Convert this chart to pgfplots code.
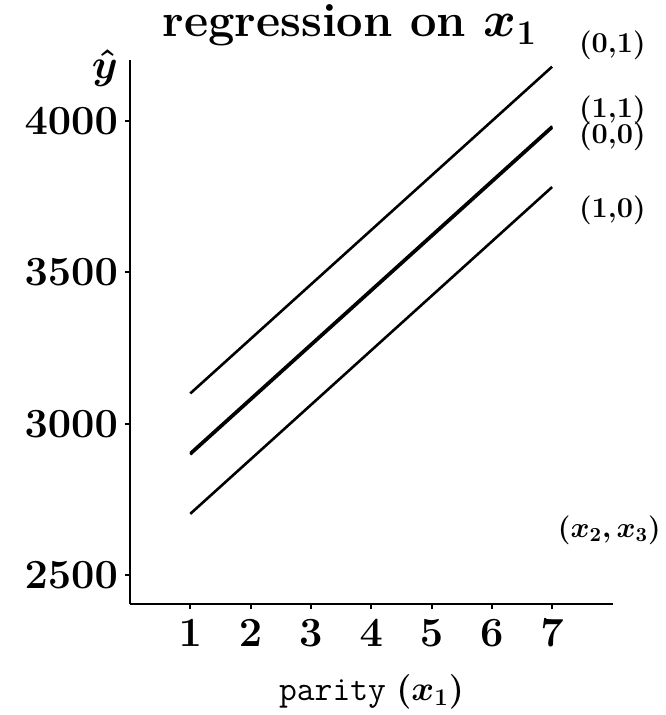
\documentclass[border=0pt]{standalone}
\usepackage{pgfplots}
\pgfplotsset{compat=1.18}
\begin{document}
\begin{tikzpicture}
  \begin{axis}[
    scale only axis,
    width=241.5pt, height=272pt,
    xmin=0, xmax=8.01,
    ymin=2404, ymax=4202,
    axis lines=left,
    axis line style={-, line width=1pt},
    tick align=outside,
    major tick length=2.5pt,
    tick style={line width=1pt, black},
    xtick={1,2,...,7},
    ytick={2500,3000,3500,4000},
    /pgf/number format/1000 sep={},
    tick label style={font=\fontsize{22}{26}\selectfont\boldmath},
    xticklabel style={yshift=-2pt},
    title={regression on $x_1$},
    title style={font=\fontsize{23.5}{28}\selectfont\bfseries\boldmath, at={(0.455,1)}, anchor=base, yshift=5.5pt},
    xlabel={\texttt{parity} $(x_1)$},
    xlabel style={font=\LARGE\boldmath, at={(rel axis cs:0.5,0)}, anchor=base, yshift=-48pt},
    ylabel={$\hat{y}$},
    ylabel style={font=\huge\boldmath, rotate=-90, at={(rel axis cs:-0.052,0.966)}, anchor=base},
    clip=false,
  ]
    % (0,1)
    \addplot[black, no markers, line width=1.3pt] coordinates {(1,3100) (7,4180)};
    % (1,1)
    \addplot[black, no markers, line width=1.3pt] coordinates {(1,2903) (7,3983)};
    % (0,0)
    \addplot[black, no markers, line width=1.3pt] coordinates {(1,2898) (7,3978)};
    % (1,0)
    \addplot[black, no markers, line width=1.3pt] coordinates {(1,2702) (7,3782)};

    \node[font=\Large\bfseries] at (axis cs:8.0,4251) {(0,1)};
    \node[font=\Large\bfseries] at (axis cs:8.0,4036) {(1,1)};
    \node[font=\Large\bfseries] at (axis cs:8.0,3949) {(0,0)};
    \node[font=\Large\bfseries] at (axis cs:8.0,3706) {(1,0)};
    \node[font=\Large\boldmath] at (axis cs:7.95,2649) {$(x_2,x_3)$};
  \end{axis}
  \pgfresetboundingbox
  \path[use as bounding box] (-65pt,-55.5pt) rectangle (267.5pt,302pt);
\end{tikzpicture}
\end{document}
